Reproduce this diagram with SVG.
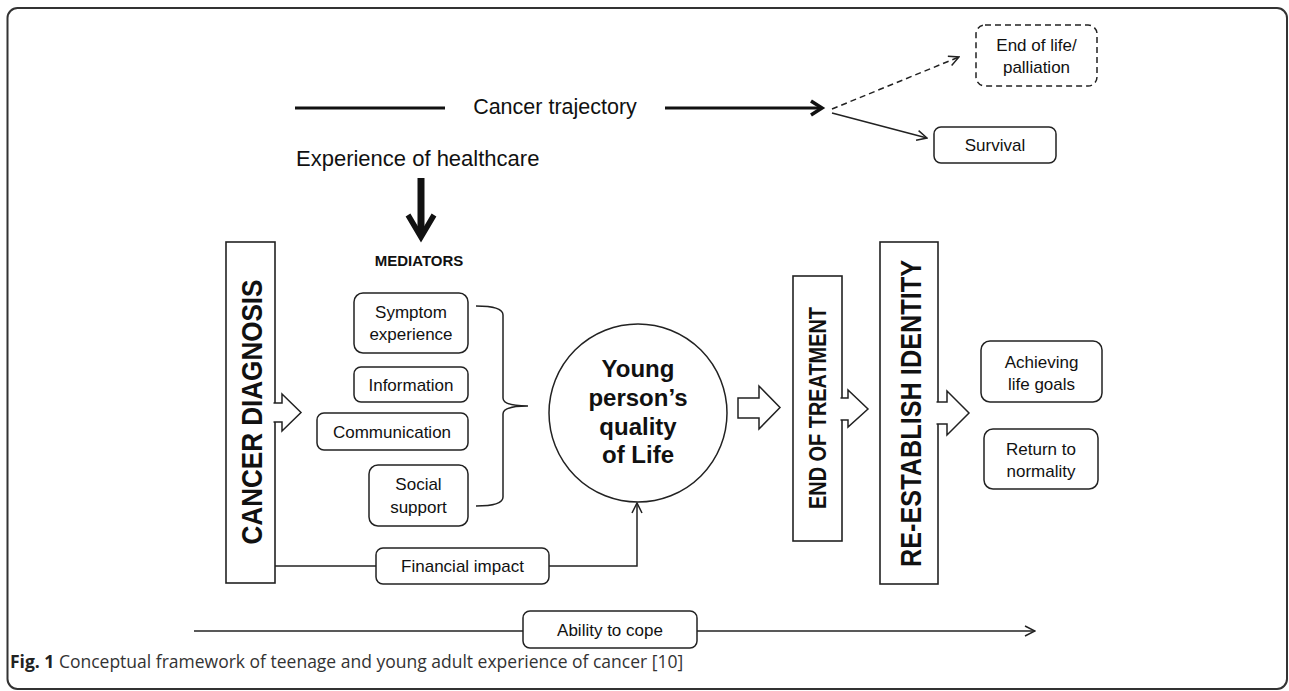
<svg xmlns="http://www.w3.org/2000/svg" width="1289" height="691" viewBox="0 0 1289 691">
<defs>
<style>
.t{font-family:"Liberation Sans",Arial,sans-serif;fill:#111;}
.box{fill:#fff;stroke:#222;stroke-width:1.5;}
.dbox{fill:#fff;stroke:#222;stroke-width:1.5;stroke-dasharray:6 4;}
.bar{fill:#fff;stroke:#222;stroke-width:1.6;}
.ln{fill:none;stroke:#222;stroke-width:1.5;}
.blk{fill:#fff;stroke:#222;stroke-width:1.5;stroke-linejoin:miter;}
.s17{font-size:17px;}
.mid{text-anchor:middle;}
</style>
<marker id="arr" viewBox="0 0 12 12" refX="11" refY="6" markerWidth="12" markerHeight="12" markerUnits="userSpaceOnUse" orient="auto">
<path d="M1,1 L11,6 L1,11" fill="none" stroke="#222" stroke-width="1.5"/>
</marker>
</defs>
<rect width="1289" height="691" fill="#fff"/>
<rect x="7.5" y="8" width="1279.5" height="681" rx="10" ry="10" fill="none" stroke="#333" stroke-width="2"/>

<g id="connectors">
<line x1="295" y1="108" x2="445" y2="108" stroke="#111" stroke-width="3"/>
<line x1="665" y1="108" x2="820" y2="108" stroke="#111" stroke-width="3"/>
<polyline points="811,101 822,108 811,115" fill="none" stroke="#111" stroke-width="3.5"/>
<line x1="832" y1="109" x2="959" y2="57" class="ln" stroke-dasharray="6 4" marker-end="url(#arr)"/>
<line x1="832" y1="113" x2="927" y2="138" class="ln" marker-end="url(#arr)"/>
<line x1="421" y1="178" x2="421" y2="234" stroke="#111" stroke-width="7"/>
<polyline points="408,215 421,237 434,215" fill="none" stroke="#111" stroke-width="5.5"/>
<path d="M476,306 Q503,306 503,315 V398 Q503,406 528,406 Q503,406 503,414 V497 Q503,506 476,506" class="ln"/>
<path d="M275,566 H376" class="ln"/>
<path d="M549,566 H637 V503" class="ln" marker-end="url(#arr)"/>
<line x1="194" y1="631" x2="523" y2="631" class="ln"/>
<line x1="697" y1="631" x2="1035" y2="631" class="ln" marker-end="url(#arr)"/>
</g>

<g id="trajectory-label"><text class="t mid" x="555" y="114" font-size="21.5">Cancer trajectory</text></g>
<g id="end-of-life"><rect x="976" y="25" width="121" height="61" rx="9" class="dbox"/>
<text class="t mid s17" x="1036.5" y="51">End of life/</text>
<text class="t mid s17" x="1036.5" y="73">palliation</text></g>
<g id="survival"><rect x="934" y="127" width="122" height="36" rx="7" class="box"/>
<text class="t mid s17" x="995" y="151">Survival</text></g>
<g id="healthcare"><text class="t" x="296" y="166" font-size="22">Experience of healthcare</text></g>
<g id="mediators-label"><text class="t mid" x="419" y="266" font-size="15" font-weight="bold">MEDIATORS</text></g>

<g id="cancer-diagnosis">
<rect x="226" y="242" width="49" height="341" class="bar"/>
<path d="M273.5,403 H282 V394 L301,412.5 L282,431 V422 H273.5" class="blk"/>
<text class="t mid" font-size="30" font-weight="bold" transform="translate(262,412) rotate(-90)" textLength="265" lengthAdjust="spacingAndGlyphs">CANCER DIAGNOSIS</text>
</g>

<g id="symptom"><rect x="354" y="293" width="114" height="60" rx="9" class="box"/>
<text class="t mid s17" x="411" y="318">Symptom</text>
<text class="t mid s17" x="411" y="340">experience</text></g>
<g id="information"><rect x="354" y="367" width="114" height="35" rx="7" class="box"/>
<text class="t mid s17" x="411" y="391">Information</text></g>
<g id="communication"><rect x="317" y="413" width="151" height="37" rx="7" class="box"/>
<text class="t mid s17" x="392" y="438">Communication</text></g>
<g id="social"><rect x="369" y="465" width="99" height="61" rx="9" class="box"/>
<text class="t mid s17" x="418.5" y="490">Social</text>
<text class="t mid s17" x="418.5" y="513">support</text></g>
<g id="financial"><rect x="376" y="548" width="173" height="36" rx="7" class="box"/>
<text class="t mid s17" x="462.5" y="572">Financial impact</text></g>

<g id="quality-of-life">
<circle cx="638" cy="413" r="89" fill="#fff" stroke="#222" stroke-width="1.5"/>
<text class="t mid" x="638" y="377" font-size="24" font-weight="bold">Young</text>
<text class="t mid" x="638" y="406" font-size="24" font-weight="bold">person’s</text>
<text class="t mid" x="638" y="435" font-size="24" font-weight="bold">quality</text>
<text class="t mid" x="638" y="463" font-size="24" font-weight="bold">of Life</text>
</g>
<g id="arrow-qol"><path d="M738,398 H759 V386 L780,407.5 L759,429 V418 H738 Z" class="blk"/></g>

<g id="end-of-treatment">
<rect x="793" y="276" width="49" height="265" class="bar"/>
<path d="M840.5,398 H848 V390 L868,409 L848,427 V420 H840.5" class="blk"/>
<text class="t mid" font-size="23" font-weight="bold" transform="translate(826,408) rotate(-90)" textLength="202" lengthAdjust="spacingAndGlyphs">END OF TREATMENT</text>
</g>

<g id="re-establish-identity">
<rect x="880" y="242" width="58" height="342" class="bar" stroke-width="2"/>
<path d="M936.5,402 H947 V391 L969,413 L947,435 V424 H936.5" class="blk"/>
<text class="t mid" font-size="29" font-weight="bold" transform="translate(921,413.5) rotate(-90)" textLength="307" lengthAdjust="spacingAndGlyphs">RE-ESTABLISH IDENTITY</text>
</g>

<g id="achieving"><rect x="981" y="341" width="121" height="61" rx="9" class="box"/>
<text class="t mid s17" x="1041.5" y="368">Achieving</text>
<text class="t mid s17" x="1041.5" y="390">life goals</text></g>
<g id="normality"><rect x="984" y="429" width="114" height="60" rx="9" class="box"/>
<text class="t mid s17" x="1041" y="455">Return to</text>
<text class="t mid s17" x="1041" y="477">normality</text></g>

<g id="ability"><rect x="523" y="611" width="174" height="37" rx="7" class="box"/>
<text class="t mid s17" x="610" y="636">Ability to cope</text></g>

<g id="caption"><text x="10" y="668" font-family="'Open Sans','Liberation Sans',sans-serif" font-size="17.5" fill="#333"><tspan font-weight="bold" fill="#222">Fig. 1</tspan> Conceptual framework of teenage and young adult experience of cancer [10]</text></g>
</svg>
